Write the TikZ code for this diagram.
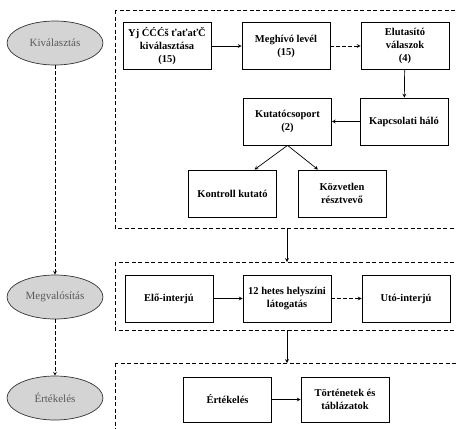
\documentclass[tikz,border=0pt]{standalone}
\usepackage{fontspec}
\setmainfont{Liberation Serif}
\usetikzlibrary{shapes.geometric}
\tikzset{
  phase/.style={ellipse, draw=black!80, line width=0.7pt, fill=black!17, text=black!65,
    minimum width=96pt, minimum height=44pt, inner sep=1pt, font=\fontsize{11}{13}\selectfont},
  stepbox/.style={draw, line width=0.8pt, minimum width=88pt, minimum height=47pt, inner sep=2pt,
    align=center, font=\fontsize{10.5}{13}\selectfont\bfseries},
  frame/.style={line width=0.8pt, dash pattern=on 4pt off 2.5pt},
  link/.style={->, >=stealth, line width=0.7pt},
  dlink/.style={link, dash pattern=on 4pt off 2pt}
}
\begin{document}
\begin{tikzpicture}[x=1pt, y=-1pt]
    \clip (0, 0) rectangle (456, 429);
    % phases on the left
    \node[phase] (kival) at (55, 43) {Kiválasztás};
    \node[phase] (megval) at (55, 297) {Megvalósítás};
    \node[phase] (ertekel) at (55, 398) {Értékelés};
    \draw[dlink] (kival) -- (megval);
    \draw[dlink] (megval) -- (ertekel);

    % frames
    \draw[frame] (115, 10) rectangle (470, 228);
    \draw[frame] (115, 262) rectangle (470, 330);
    \draw[frame] (115, 363) rectangle (470, 445);
    \coordinate (f1bot) at (287, 228);
    \coordinate (f2top) at (287, 262);
    \coordinate (f2bot) at (287, 330);
    \coordinate (f3top) at (287, 363);
    \draw[link] (f1bot) -- (f2top);
    \draw[link] (f2bot) -- (f3top);

    % selection
    \node[stepbox] (uj) at (167, 46) {Yj ĆĆĆš ťaťaťČ\\kiválasztása\\(15)};
    \node[stepbox] (meghivo) at (286, 46) {Meghívó levél\\(15)};
    \node[stepbox] (elutasit) at (405, 46) {Elutasító\\válaszok\\(4)};
    \node[stepbox] (kapcsol) at (404, 121.5) {Kapcsolati háló};
    \node[stepbox] (kutato) at (287.5, 121.5) {Kutatócsoport\\(2)};
    \node[stepbox] (kontroll) at (232.5, 193.5) {Kontroll kutató};
    \node[stepbox] (kozvetlen) at (342, 193.5) {Közvetlen\\résztvevő};
    \draw[link] (uj) -- (meghivo);
    \draw[dlink] (meghivo) -- (elutasit);
    \draw[link] (elutasit) -- (kapcsol);
    \draw[link] (kapcsol) -- (kutato);
    \draw[link] (kutato.south) -- ([xshift=22pt]kontroll.north);
    \draw[link] (kutato.south) -- ([xshift=-24pt]kozvetlen.north);

    % realisation
    \node[stepbox] (elo) at (169, 298.5) {Elő-interjú};
    \node[stepbox] (hetes) at (287, 298.5) {12 hetes helyszíni\\látogatás};
    \node[stepbox] (uto) at (406, 298.5) {Utó-interjú};
    \draw[link] (elo) -- (hetes);
    \draw[dlink] (hetes) -- (uto);

    % evaluation
    \node[stepbox, minimum height=45pt] (ertek) at (227.5, 399.5) {Értékelés};
    \node[stepbox, minimum height=45pt] (tortenet) at (345, 399.5) {Történetek és\\táblázatok};
    \draw[link] (ertek) -- (tortenet);
\end{tikzpicture}
\end{document}
